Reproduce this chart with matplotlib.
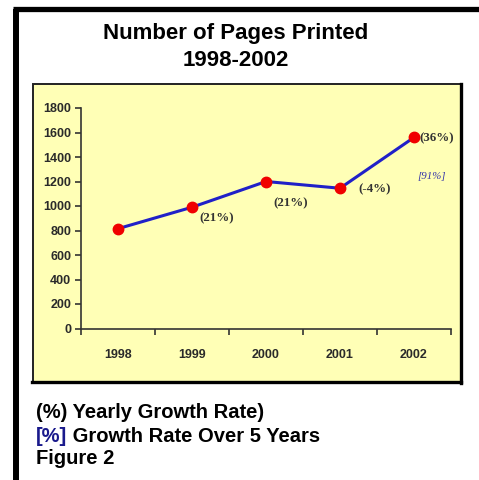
import matplotlib
matplotlib.use("Agg")
from matplotlib import pyplot as plt
from matplotlib.patches import Rectangle
from matplotlib.lines import Line2D

years = ["1998", "1999", "2000", "2001", "2002"]
pages = [815, 990, 1200, 1145, 1560]
growth_labels = ["", "(21%)", "(21%)", "(-4%)", "(36%)"]
total_growth = "[91%]"

W, H = 479, 480
fig = plt.figure(figsize=(W / 100, H / 100), dpi=100)

def fx(px):
    return px / W

def fy(py):
    return 1 - py / H

# outer frame (left + top thick lines)
fig.add_artist(Line2D([fx(16), fx(16)], [fy(8.5), fy(480)], color="black", lw=4.3, solid_capstyle="butt"))
fig.add_artist(Line2D([fx(13), fx(479)], [fy(8.5), fy(8.5)], color="black", lw=3.8, solid_capstyle="butt"))

# yellow panel, behind the axes: thin edge left/top, heavier right/bottom
panel = Rectangle((fx(32.5), fy(381.5)), fx(461) - fx(32.5), fy(84) - fy(381.5),
                  facecolor="#ffffb6", edgecolor="#222222", lw=1.4, zorder=-5)
fig.add_artist(panel)
fig.add_artist(Line2D([fx(32), fx(461)], [fy(381.5), fy(381.5)], color="black", lw=2.4, zorder=-4))
fig.add_artist(Line2D([fx(461), fx(461)], [fy(84), fy(382.5)], color="black", lw=2.4, zorder=-4))

# titles
fig.text(fx(236), fy(33), "Number of Pages Printed", ha="center", va="center",
         fontsize=16, fontweight="bold", family="Liberation Sans")
fig.text(fx(236), fy(60), "1998-2002", ha="center", va="center",
         fontsize=16, fontweight="bold", family="Liberation Sans")

# plot axes
ax = fig.add_axes([fx(81), fy(328.5), fx(451) - fx(81), fy(108) - fy(328.5)])
ax.set_zorder(5)
ax.patch.set_alpha(0)
x = range(len(years))
ax.plot(x, pages, color="#2020c8", lw=2.2, zorder=2)
ax.plot(x, pages, "o", color="#f00000", markersize=7.5, zorder=3)

ax.set_xlim(-0.5, 4.5)
ax.set_ylim(0, 1800)
ax.set_yticks(range(0, 1801, 200))
ax.set_xticks(list(x))
ax.set_xticklabels(years)
ax.set_xticks([i - 0.5 for i in range(len(years) + 1)], minor=True)
ax.tick_params(axis="x", which="major", length=0, pad=15)
ax.tick_params(axis="x", which="minor", length=4, width=1.2, color="#333333", direction="out")
ax.tick_params(axis="y", length=4, width=1.2, color="#333333", pad=3)
for lab in ax.get_xticklabels() + ax.get_yticklabels():
    lab.set_family("Liberation Sans")
    lab.set_fontweight("bold")
    lab.set_fontsize(9)
    lab.set_color("#2a2a2a")
for side in ["top", "right"]:
    ax.spines[side].set_visible(False)
for side in ["left", "bottom"]:
    ax.spines[side].set_color("#333333")
    ax.spines[side].set_linewidth(1.2)

# yearly growth labels
offsets = [(0, 0), (25, -11), (25, -22), (35, -1), (23, -1)]
for i, lab in enumerate(growth_labels):
    if lab:
        ax.annotate(lab, (i, pages[i]), xytext=offsets[i], textcoords="offset pixels",
                    ha="center", va="center", fontsize=9.3, fontweight="bold",
                    family="Liberation Serif", color="#333333")
ax.annotate(total_growth, (4, pages[4]), xytext=(18, -39), textcoords="offset pixels",
            ha="center", va="center", fontsize=7.8, style="italic",
            family="Liberation Serif", color="#3333aa")

# footer
fs = 14.5
fig.text(fx(36), fy(413), "(%) Yearly Growth Rate)", ha="left", va="center",
         fontsize=fs, fontweight="bold", family="Liberation Sans")
t1 = fig.text(fx(36), fy(436), "[%]", ha="left", va="center",
              fontsize=fs, fontweight="bold", family="Liberation Sans", color="#1a1a8c")
fig.add_artist(plt.Annotation(" Growth Rate Over 5 Years", xy=(1, 0), xycoords=t1,
                              ha="left", va="bottom", fontsize=fs, fontweight="bold",
                              family="Liberation Sans", annotation_clip=False))
fig.text(fx(36), fy(459), "Figure 2", ha="left", va="center",
         fontsize=fs, fontweight="bold", family="Liberation Sans")

plt.savefig("out.png", dpi=100)
